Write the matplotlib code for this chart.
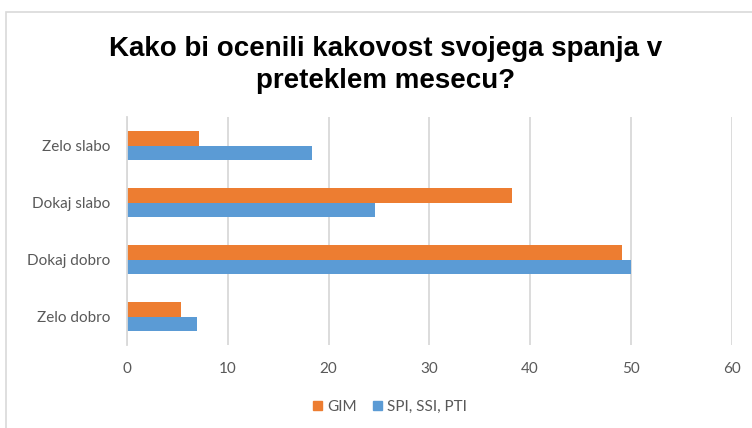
import matplotlib
matplotlib.use("Agg")
import matplotlib.pyplot as plt
from matplotlib.patches import Rectangle, Patch
import numpy as np

categories = ["Zelo slabo", "Dokaj slabo", "Dokaj dobro", "Zelo dobro"]
gim = [7.1, 38.2, 49.1, 5.4]
spi = [18.4, 24.6, 50.0, 6.9]
series_names = ["GIM", "SPI, SSI, PTI"]
xticks = [0, 10, 20, 30, 40, 50, 60]

orange = "#ED7D31"
blue = "#5B9BD5"
grid_c = "#D9D9D9"
text_c = "#595959"

fig = plt.figure(figsize=(7.52, 4.28), dpi=100)
fig.patches.append(Rectangle((6/752, -0.1), 1.2, 1 - 12/428 + 0.1,
                             transform=fig.transFigure, fill=False,
                             edgecolor=grid_c, linewidth=1.2))

ax = fig.add_axes([127/752, 1 - 345/428, (731.5 - 127)/752, (345 - 117)/428])
y = np.arange(len(categories))
h = 0.263
ax.barh(y - h/2, gim, height=h, color=orange, label=series_names[0])
ax.barh(y + h/2, spi, height=h, color=blue, label=series_names[1])
ax.set_ylim(3.5, -0.5)
ax.set_xlim(0, 60)
ax.set_xticks(xticks)
ax.set_yticks(y)
ax.set_yticklabels(categories)
ax.xaxis.grid(True, color=grid_c, linewidth=1.3)
ax.set_axisbelow(True)
for s in ["top", "right", "bottom"]:
    ax.spines[s].set_visible(False)
ax.spines["left"].set_color(grid_c)
ax.spines["left"].set_linewidth(1.3)
ax.tick_params(axis="both", length=0, colors=text_c, labelsize=11)
ax.tick_params(axis="x", pad=12)
ax.tick_params(axis="y", pad=12)
for lab in ax.get_xticklabels() + ax.get_yticklabels():
    lab.set_fontfamily("Lato")

fig.text(0.513, 1 - 65/428, "Kako bi ocenili kakovost svojega spanja v\npreteklem mesecu?",
         ha="center", va="center", fontsize=20, fontweight="bold",
         family=["Liberation Sans", "DejaVu Sans"], color="black",
         linespacing=1.32)

handles = [Patch(color=orange), Patch(color=blue)]
fig.legend(handles, series_names, loc="center", bbox_to_anchor=(390/752, 1 - 407/428),
           ncol=2, frameon=False, handlelength=0.6, handleheight=0.6,
           handletextpad=0.35, columnspacing=1.0,
           prop={"family": "Lato", "size": 11}, labelcolor=text_c)

fig.savefig("out.png", dpi=100)
